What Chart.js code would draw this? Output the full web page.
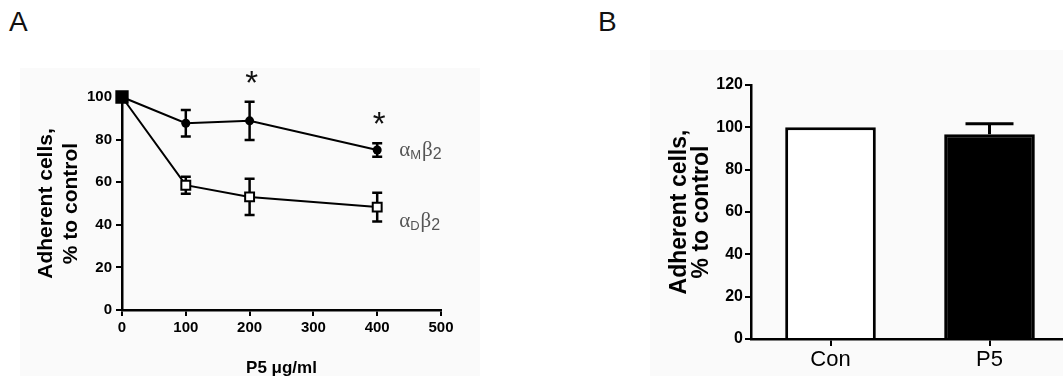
<!DOCTYPE html>
<html>
<head>
<meta charset="utf-8">
<script src="https://cdn.jsdelivr.net/npm/chart.js@4.4.1/dist/chart.umd.min.js"></script>
<style>
  html, body { margin: 0; padding: 0; background: #fff; }
  body { position: relative; width: 1063px; height: 376px; overflow: hidden; font-family: 'Liberation Sans', Arial, sans-serif; }
  .panel { position: absolute; background: #fafafa; }
  .tag { position: absolute; font-size: 28px; color: #111; line-height: 30px; }
  canvas { position: absolute; top: 0; }
</style>
</head>
<body>
<div class="panel" style="left:20px;top:68px;width:460px;height:308px"></div>
<div class="panel" style="left:650px;top:50px;width:413px;height:326px"></div>
<div class="tag" style="left:9px;top:7px">A</div>
<div class="tag" style="left:598px;top:7px">B</div>
<canvas id="graphA" width="480" height="376" style="left:0"></canvas>
<canvas id="graphB" width="520" height="376" style="left:560px"></canvas>
<script>
// panel A: adhesion vs P5 dose
const doses = [0, 100, 200, 400];
const amMean = [100, 87.7, 88.8, 75.1];
const amErr = [0, 6.2, 9.0, 3.2];
const adMean = [100, 58.6, 53.1, 48.3];
const adErr = [0, 4.0, 8.5, 6.7];
const sigDoses = [200, 400];

// panel B: control vs P5
const groups = ['Con', 'P5'];
const barMean = [100, 96.7];
const barErr = [0, 5.0];

const SANS = "'Liberation Sans', Arial, sans-serif";
const SERIF = "'Liberation Serif', 'DejaVu Serif', serif";
Chart.defaults.font.family = SANS;
Chart.defaults.color = '#000';

function toPoints(xs, ys) {
    return xs.map((x, i) => ({ x: x, y: ys[i] }));
}

// vertical error bars with caps, drawn under the markers
const errorBars = {
    id: 'errorBars',
    beforeDatasetsDraw(chart, args, opts) {
        const ctx = chart.ctx;
        const yScale = chart.scales.y;
        chart.data.datasets.forEach((ds, di) => {
            if (!ds.errors) return;
            const meta = chart.getDatasetMeta(di);
            meta.data.forEach((el, i) => {
                const err = ds.errors[i];
                if (!err) return;
                const raw = ds.data[i];
                const v = typeof raw === 'object' ? raw.y : raw;
                const top = yScale.getPixelForValue(v + err);
                const bot = ds.upOnly ? yScale.getPixelForValue(v) : yScale.getPixelForValue(v - err);
                ctx.save();
                ctx.strokeStyle = '#000';
                ctx.lineWidth = opts.width;
                ctx.beginPath();
                ctx.moveTo(el.x, top);
                ctx.lineTo(el.x, bot);
                ctx.moveTo(el.x - opts.cap / 2, top);
                ctx.lineTo(el.x + opts.cap / 2, top);
                if (!ds.upOnly) {
                    ctx.moveTo(el.x - opts.cap / 2, bot);
                    ctx.lineTo(el.x + opts.cap / 2, bot);
                }
                ctx.stroke();
                ctx.restore();
            });
        });
    }
};

// asterisks above significant points + series names at line ends
const annotations = {
    id: 'annotations',
    afterDatasetsDraw(chart) {
        const ctx = chart.ctx;
        const xScale = chart.scales.x;
        const yScale = chart.scales.y;
        chart.data.datasets.forEach((ds, di) => {
            const meta = chart.getDatasetMeta(di);
            if (ds.stars) {
                ds.stars.forEach(d => {
                    const i = doses.indexOf(d);
                    const top = yScale.getPixelForValue(ds.data[i].y + ds.errors[i]);
                    ctx.save();
                    ctx.font = '33px ' + SANS;
                    ctx.textAlign = 'center';
                    ctx.textBaseline = 'alphabetic';
                    ctx.fillStyle = '#111';
                    ctx.fillText('*', xScale.getPixelForValue(d) + 2, top - 28 + 20);
                    ctx.restore();
                });
            }
            if (ds.sub) {
                const last = meta.data[meta.data.length - 1];
                let x = last.x + 22;
                const y = last.y + (ds.tagDy || 0) + 6;
                ctx.save();
                ctx.fillStyle = '#555';
                ctx.textBaseline = 'alphabetic';
                ctx.font = '21px ' + SERIF;
                ctx.fillText('α', x, y);
                x += ctx.measureText('α').width;
                ctx.font = '13px ' + SANS;
                ctx.fillText(ds.sub, x, y + 3);
                x += ctx.measureText(ds.sub).width + 1;
                ctx.font = '21px ' + SERIF;
                ctx.fillText('β', x, y);
                x += ctx.measureText('β').width;
                ctx.font = '16px ' + SANS;
                ctx.fillText('2', x, y + 3);
                ctx.restore();
            }
        });
    }
};

new Chart('graphA', {
    type: 'line',
    data: {
        datasets: [{
            label: 'αDβ2',
            data: toPoints(doses, adMean),
            errors: adErr,
            sub: 'D',
            tagDy: 14,
            order: 0,
            clip: false,
            borderColor: '#000',
            borderWidth: 2,
            pointStyle: 'rect',
            pointRadius: [8, 6.3, 6.3, 6.3],
            pointBorderWidth: 2,
            pointBorderColor: '#000',
            pointBackgroundColor: ['#000', '#fff', '#fff', '#fff'],
        }, {
            label: 'αMβ2',
            data: toPoints(doses, amMean),
            errors: amErr,
            sub: 'M',
            stars: sigDoses,
            order: 1,
            clip: false,
            borderColor: '#000',
            borderWidth: 2,
            pointStyle: 'circle',
            pointRadius: 4.5,
            pointBorderWidth: 0,
            pointBackgroundColor: '#000',
        }]
    },
    options: {
        responsive: false,
        animation: false,
        layout: { padding: { top: 97, right: 39, left: 0, bottom: 0 } },
        plugins: {
            legend: { display: false },
            tooltip: { enabled: false },
            errorBars: { cap: 10, width: 2.5 }
        },
        scales: {
            x: {
                type: 'linear',
                min: 0,
                max: 500,
                ticks: { stepSize: 100, padding: 3, font: { size: 15, weight: 'bold' } },
                grid: { drawOnChartArea: false, tickLength: 6, color: '#000', lineWidth: 2 },
                border: { color: '#000', width: 2.5 },
                title: { display: true, text: 'P5 μg/ml', font: { size: 17, weight: 'bold' }, padding: { top: 0, bottom: -3 } },
                afterFit: s => { s.height = 66; }
            },
            y: {
                min: 0,
                max: 100,
                ticks: { stepSize: 20, padding: 4, font: { size: 15, weight: 'bold' } },
                grid: { drawOnChartArea: false, tickLength: 6, color: '#000', lineWidth: 2 },
                border: { color: '#000', width: 2.5 },
                title: { display: true, text: ['Adherent cells,', '% to control'], font: { size: 21, weight: 'bold', lineHeight: 1.19 }, padding: { top: 34, bottom: 0 } },
                afterFit: s => { s.width = 122; }
            }
        }
    },
    plugins: [errorBars, annotations]
});

new Chart('graphB', {
    type: 'bar',
    data: {
        labels: groups,
        datasets: [{
            data: barMean,
            errors: barErr,
            upOnly: true,
            backgroundColor: ['#fff', '#000'],
            borderColor: '#000',
            borderWidth: 3,
            borderSkipped: 'bottom',
            barPercentage: 0.57,
            categoryPercentage: 1
        }]
    },
    options: {
        responsive: false,
        animation: false,
        layout: { padding: { top: 85, right: 11, left: 0, bottom: 0 } },
        plugins: {
            legend: { display: false },
            tooltip: { enabled: false },
            errorBars: { cap: 48, width: 3 }
        },
        scales: {
            x: {
                ticks: { padding: 1, font: { size: 22 } },
                grid: { offset: false, drawOnChartArea: false, tickLength: 7, color: '#000', lineWidth: 2 },
                border: { color: '#000', width: 2.5 },
                afterFit: s => { s.height = 37; }
            },
            y: {
                min: 0,
                max: 120,
                ticks: { stepSize: 20, padding: 2, font: { size: 16, weight: 'bold' } },
                grid: { drawOnChartArea: false, tickLength: 6, color: '#000', lineWidth: 2 },
                border: { color: '#000', width: 2.5 },
                title: { display: true, text: ['Adherent cells,', '% to control'], font: { size: 23, weight: 'bold', lineHeight: 0.96 }, padding: { top: 109, bottom: 0 } },
                afterFit: s => { s.width = 191; }
            }
        }
    },
    plugins: [errorBars]
});
</script>
</body>
</html>
